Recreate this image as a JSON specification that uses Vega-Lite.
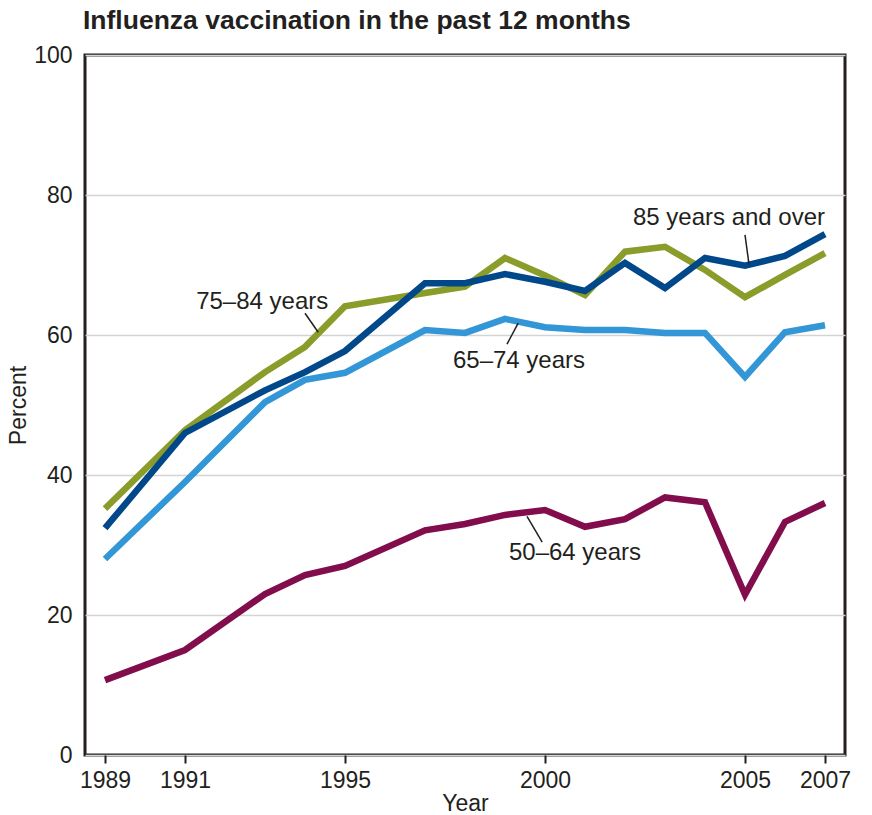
{
  "$schema": "https://vega.github.io/schema/vega-lite/v6.json",
  "width": 760,
  "height": 700,
  "autosize": {"type": "none"},
  "padding": {"left": 85, "top": 55, "right": 27, "bottom": 60},
  "background": "white",
  "config": {
    "font": "Liberation Sans",
    "view": {"stroke": "#231f20", "strokeWidth": 3},
    "axis": {"labelFont": "Liberation Sans", "titleFont": "Liberation Sans", "labelColor": "#231f20", "titleColor": "#231f20", "labelFontSize": 23, "titleFontSize": 23, "titleFontWeight": "normal"}
  },
  "title": {"text": "Influenza vaccination in the past 12 months", "anchor": "start", "frame": "group", "fontSize": 26.5, "fontWeight": "bold", "color": "#231f20", "offset": 10, "dx": -2},
  "datasets": {
    "series": [
      {"year": 1989, "group": "50–64 years", "value": 10.7},
      {"year": 1991, "group": "50–64 years", "value": 15.0},
      {"year": 1993, "group": "50–64 years", "value": 23.0},
      {"year": 1994, "group": "50–64 years", "value": 25.7},
      {"year": 1995, "group": "50–64 years", "value": 27.0},
      {"year": 1997, "group": "50–64 years", "value": 32.1},
      {"year": 1998, "group": "50–64 years", "value": 33.0},
      {"year": 1999, "group": "50–64 years", "value": 34.3},
      {"year": 2000, "group": "50–64 years", "value": 35.0},
      {"year": 2001, "group": "50–64 years", "value": 32.6},
      {"year": 2002, "group": "50–64 years", "value": 33.7},
      {"year": 2003, "group": "50–64 years", "value": 36.8},
      {"year": 2004, "group": "50–64 years", "value": 36.1},
      {"year": 2005, "group": "50–64 years", "value": 22.9},
      {"year": 2006, "group": "50–64 years", "value": 33.3},
      {"year": 2007, "group": "50–64 years", "value": 36.0},
      {"year": 1989, "group": "65–74 years", "value": 28.0},
      {"year": 1991, "group": "65–74 years", "value": 39.0},
      {"year": 1993, "group": "65–74 years", "value": 50.4},
      {"year": 1994, "group": "65–74 years", "value": 53.6},
      {"year": 1995, "group": "65–74 years", "value": 54.6},
      {"year": 1997, "group": "65–74 years", "value": 60.7},
      {"year": 1998, "group": "65–74 years", "value": 60.3},
      {"year": 1999, "group": "65–74 years", "value": 62.3},
      {"year": 2000, "group": "65–74 years", "value": 61.1},
      {"year": 2001, "group": "65–74 years", "value": 60.7},
      {"year": 2002, "group": "65–74 years", "value": 60.7},
      {"year": 2003, "group": "65–74 years", "value": 60.3},
      {"year": 2004, "group": "65–74 years", "value": 60.3},
      {"year": 2005, "group": "65–74 years", "value": 54.0},
      {"year": 2006, "group": "65–74 years", "value": 60.4},
      {"year": 2007, "group": "65–74 years", "value": 61.4},
      {"year": 1989, "group": "75–84 years", "value": 35.2},
      {"year": 1991, "group": "75–84 years", "value": 46.4},
      {"year": 1993, "group": "75–84 years", "value": 54.7},
      {"year": 1994, "group": "75–84 years", "value": 58.3},
      {"year": 1995, "group": "75–84 years", "value": 64.1},
      {"year": 1997, "group": "75–84 years", "value": 66.0},
      {"year": 1998, "group": "75–84 years", "value": 66.9},
      {"year": 1999, "group": "75–84 years", "value": 71.0},
      {"year": 2000, "group": "75–84 years", "value": 68.5},
      {"year": 2001, "group": "75–84 years", "value": 65.7},
      {"year": 2002, "group": "75–84 years", "value": 71.9},
      {"year": 2003, "group": "75–84 years", "value": 72.6},
      {"year": 2004, "group": "75–84 years", "value": 69.3},
      {"year": 2005, "group": "75–84 years", "value": 65.4},
      {"year": 2006, "group": "75–84 years", "value": 68.6},
      {"year": 2007, "group": "75–84 years", "value": 71.7},
      {"year": 1989, "group": "85 years and over", "value": 32.4},
      {"year": 1991, "group": "85 years and over", "value": 46.0},
      {"year": 1993, "group": "85 years and over", "value": 52.1},
      {"year": 1994, "group": "85 years and over", "value": 54.7},
      {"year": 1995, "group": "85 years and over", "value": 57.7},
      {"year": 1997, "group": "85 years and over", "value": 67.4},
      {"year": 1998, "group": "85 years and over", "value": 67.4},
      {"year": 1999, "group": "85 years and over", "value": 68.7},
      {"year": 2000, "group": "85 years and over", "value": 67.6},
      {"year": 2001, "group": "85 years and over", "value": 66.3},
      {"year": 2002, "group": "85 years and over", "value": 70.3},
      {"year": 2003, "group": "85 years and over", "value": 66.7},
      {"year": 2004, "group": "85 years and over", "value": 71.0},
      {"year": 2005, "group": "85 years and over", "value": 69.9},
      {"year": 2006, "group": "85 years and over", "value": 71.3},
      {"year": 2007, "group": "85 years and over", "value": 74.4}
    ],
    "labels": [
      {"label": "75–84 years", "lx": 1992.93, "ly": 64.7, "ax": 1994.0, "ay": 63.1, "bx": 1994.33, "by": 60.4},
      {"label": "85 years and over", "lx": 2004.6, "ly": 76.7, "ax": 2005.0, "ay": 74.3, "bx": 2005.1, "by": 70.1},
      {"label": "65–74 years", "lx": 1999.35, "ly": 56.3, "ax": 1999.05, "ay": 58.7, "bx": 1999.33, "by": 61.7},
      {"label": "50–64 years", "lx": 2000.75, "ly": 28.9, "ax": 1999.93, "ay": 30.4, "bx": 1999.55, "by": 34.1}
    ]
  },
  "layer": [
    {
      "data": {"name": "series"},
      "mark": {"type": "line", "strokeWidth": 6.5, "strokeJoin": "miter", "strokeCap": "butt"},
      "encoding": {
        "x": {"field": "year", "type": "quantitative", "scale": {"domain": [1988.5, 2007.5], "nice": false, "zero": false},
          "axis": {"values": [1989, 1991, 1995, 2000, 2005, 2007], "format": "d", "grid": false, "domain": false, "tickSize": 8, "tickWidth": 2, "tickColor": "#231f20", "labelPadding": 6, "title": "Year", "titlePadding": 0}},
        "y": {"field": "value", "type": "quantitative", "scale": {"domain": [0, 100], "nice": false},
          "axis": {"values": [0, 20, 40, 60, 80, 100], "grid": true, "gridColor": "#d4d4d4", "gridWidth": 1.5, "ticks": false, "domain": false, "labelPadding": 13, "title": "Percent", "titlePadding": 3}},
        "color": {"field": "group", "type": "nominal", "legend": null,
          "scale": {"domain": ["50–64 years", "65–74 years", "75–84 years", "85 years and over"], "range": ["#820d4d", "#3396d6", "#8a9c2a", "#00488a"]}},
        "order": {"field": "year"}
      }
    },
    {
      "data": {"name": "labels"},
      "mark": {"type": "rule", "color": "#231f20", "strokeWidth": 1.5},
      "encoding": {
        "x": {"field": "ax", "type": "quantitative"},
        "y": {"field": "ay", "type": "quantitative"},
        "x2": {"field": "bx"},
        "y2": {"field": "by"}
      }
    },
    {
      "data": {"name": "labels"},
      "mark": {"type": "text", "fontSize": 24, "color": "#231f20", "align": "center", "baseline": "middle"},
      "encoding": {
        "x": {"field": "lx", "type": "quantitative"},
        "y": {"field": "ly", "type": "quantitative"},
        "text": {"field": "label"}
      }
    }
  ]
}
